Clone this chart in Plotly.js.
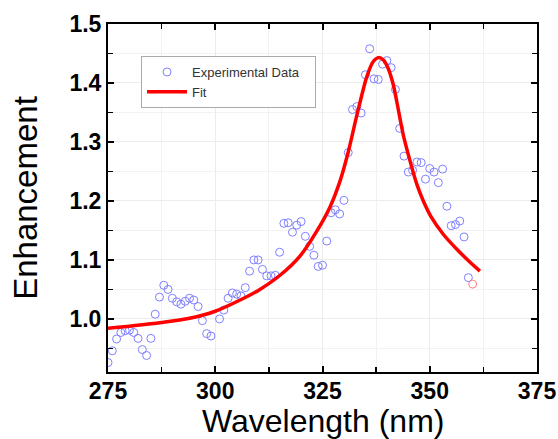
<!DOCTYPE html>
<html><head><meta charset="utf-8">
<script src="https://cdn.plot.ly/plotly-3.0.1.min.js"></script>
<style>html,body{margin:0;padding:0;background:#fff}#chart{width:558px;height:439px}</style>
</head><body><div id="chart"></div>
<script>
// Experimental data (wavelength nm, enhancement)
const expX = [275,276,277,278,279,280,281,282,283,284,285,286,287,288,289,290,291,292,293,294,295,296,297,298,299,
  301,302,303,304,305,306,307,308,309,310,311,312,313,314,315,316,317,318,319,320,321,322,323,324,325,326,327,328,329,330,
  331,332,333,334,335,336,337,338,339,340,341,342,343,344,345,346,347,348,349,350,351,352,353,354,355,356,357,358,359];
const expY = [0.926,0.946,0.966,0.977,0.980,0.981,0.977,0.967,0.948,0.938,0.967,1.008,1.037,1.057,1.050,1.035,1.029,1.025,1.030,1.035,1.032,1.021,0.997,0.975,0.971,
  1.000,1.015,1.035,1.044,1.042,1.039,1.053,1.081,1.100,1.100,1.084,1.073,1.073,1.074,1.113,1.162,1.163,1.147,1.159,1.165,1.140,1.123,1.108,1.089,1.091,1.132,1.180,1.185,1.178,1.201,
  1.282,1.355,1.360,1.349,1.414,1.458,1.407,1.406,1.432,1.438,1.426,1.389,1.323,1.276,1.249,1.252,1.266,1.265,1.237,1.255,1.249,1.231,1.254,1.191,1.158,1.160,1.166,1.139,1.070];
// Highlighted last point
const lastX = [360];
const lastY = [1.059];
// Fit curve
const fitX = [275,287.5,294,300,305.8,310.4,315.1,319.8,323.6,326.7,329.1,331.0,333.0,335.3,336.8,338.0,339.2,340.3,341.5,342.3,343.8,345.4,347.0,348.5,350.4,353.1,356.2,359.4,361.7];
const fitY = [0.984,0.994,1.001,1.013,1.032,1.050,1.074,1.107,1.148,1.189,1.234,1.283,1.345,1.410,1.436,1.443,1.439,1.425,1.397,1.369,1.313,1.268,1.228,1.200,1.172,1.144,1.119,1.096,1.081];
// Axis ticks
const xTicks = [275,300,325,350,375];
const yTicks = [1.0,1.1,1.2,1.3,1.4,1.5];
const xTitle = 'Wavelength (nm)';
const yTitle = 'Enhancement';

const traces = [
  {x: expX, y: expY, type: 'scatter', mode: 'markers', name: 'Experimental Data\u00a0\u00a0\u00a0',
   marker: {symbol: 'circle-open', size: 8, color: '#8080ff', line: {width: 1, color: '#8080ff'}}},
  {x: fitX, y: fitY, type: 'scatter', mode: 'lines', name: 'Fit',
   line: {color: '#ff0000', width: 3.5, shape: 'spline', smoothing: 0.8}},
  {x: lastX, y: lastY, type: 'scatter', mode: 'markers', showlegend: false,
   marker: {symbol: 'circle-open', size: 8, color: '#ff8080', line: {width: 1, color: '#ff8080'}}}
];

const FONT = 'Liberation Sans, Arial, sans-serif';
const axisCommon = {
  showline: true, linecolor: '#000', linewidth: 2, mirror: 'allticks',
  ticks: 'inside', ticklen: 6, tickwidth: 2, tickcolor: '#000',
  showgrid: true, gridcolor: '#ececec', gridwidth: 1, zeroline: false,
  tickfont: {family: FONT, size: 23, color: '#000', weight: 'bold'}
};

const layout = {
  width: 558, height: 439,
  margin: {l: 108, r: 21, t: 24, b: 67},
  paper_bgcolor: '#fff', plot_bgcolor: '#fff',
  showlegend: true,
  xaxis: Object.assign({}, axisCommon, {
    range: [275, 375], tickvals: xTicks, ticktext: xTicks.map(String),
    ticklabelstandoff: -3,
    minor: {dtick: 12.5, tick0: 275, ticks: 'inside', ticklen: 5, tickwidth: 1.5, tickcolor: '#000', showgrid: true, gridcolor: '#f2f2f2'}
  }),
  yaxis: Object.assign({}, axisCommon, {
    range: [0.91, 1.5], tickvals: yTicks, ticktext: yTicks.map(v => v.toFixed(1)),
    minor: {dtick: 0.05, tick0: 1.0, ticks: 'inside', ticklen: 5, tickwidth: 1.5, tickcolor: '#000', showgrid: true, gridcolor: '#f2f2f2'},
    title: {text: yTitle, font: {family: FONT, size: 33, color: '#000'}, standoff: 22}
  }),
  annotations: [
    {text: xTitle, xref: 'paper', yref: 'paper', x: 0.5, y: (372 - 402) / 348,
     xanchor: 'center', yanchor: 'top', showarrow: false, borderpad: 0,
     font: {family: FONT, size: 32, color: '#000'}}
  ],
  legend: {x: 0.077, y: 0.908, xanchor: 'left', yanchor: 'top',
    bgcolor: '#fff', bordercolor: '#aaa', borderwidth: 1,
    font: {family: FONT, size: 13, color: '#333'},
    itemwidth: 40, tracegroupgap: 0}
};

Plotly.newPlot('chart', traces, layout, {displayModeBar: false, staticPlot: true});
</script></body></html>
